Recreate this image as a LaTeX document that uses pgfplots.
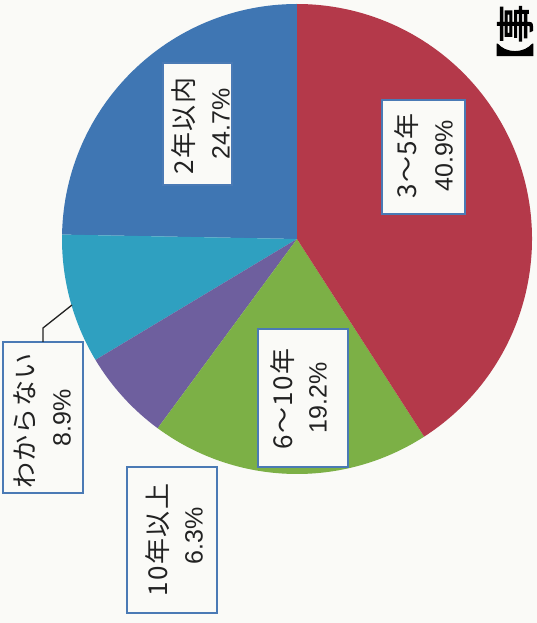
\documentclass[border=0pt]{standalone}
\usepackage{fontspec}
\usepackage{pgfplots}
\pgfplotsset{compat=1.18}
\setmainfont{Noto Sans CJK JP}
\newfontfamily\jp[LetterSpace=5]{Noto Sans CJK JP}
\newfontfamily\num{Liberation Sans}
\newfontfamily\jpb[FakeBold=3]{Noto Sans CJK JP}

\definecolor{cblue}{HTML}{3F76B3}
\definecolor{cred}{HTML}{B4394A}
\definecolor{cgreen}{HTML}{7CB046}
\definecolor{cpurple}{HTML}{6E5F9E}
\definecolor{ccyan}{HTML}{2FA0C0}
\definecolor{cbox}{HTML}{4A7AB5}
\definecolor{paper}{HTML}{FAFAF7}
\definecolor{ink}{HTML}{222222}

\begin{document}
\begin{tikzpicture}
\clip (0,0) rectangle (537bp,623bp);
\fill[paper] (0,0) rectangle (537bp,623bp);
\begin{axis}[
 at={(0,0)},anchor=origin,
 x=1bp,y=1bp,
 xmin=0,xmax=537,ymin=0,ymax=623,
 axis line style={draw=none},ticks=none,
 clip=false
]
% pie: shares in percent, counter-clockwise from 12 o'clock
\def\cx{297}\def\cy{384}\def\rr{235}
\xdef\a{90}
\foreach \v/\c in {24.7/cblue,8.9/ccyan,6.3/cpurple,19.2/cgreen,40.9/cred}{
  \pgfmathsetmacro\b{\a+3.6*\v}
  \edef\tmp{\noexpand\fill[\c] (axis cs:\cx,\cy) -- ++(\a:\rr bp)
    arc[start angle=\a,end angle=\b,radius=\rr bp] -- cycle;}
  \tmp
  \xdef\a{\b}
}

% label boxes
\tikzset{lb/.style={fill=paper,draw=cbox,line width=1.2bp}}
\draw[lb] (axis cs:163,438) rectangle (axis cs:232,560);
\draw[lb] (axis cs:382,409) rectangle (axis cs:465,523);
\draw[lb] (axis cs:258,156) rectangle (axis cs:348,294);
\draw[lb] (axis cs:3,130) rectangle (axis cs:83,281);
\draw[lb] (axis cs:127,10) rectangle (axis cs:217,156);
\draw[ink,line width=1.3bp] (axis cs:43,281) -- (axis cs:43,295) -- (axis cs:72,318);

\tikzset{t1/.style={rotate=90,inner sep=0,text=ink,font=\jp\fontsize{26bp}{30bp}\selectfont},
         t2/.style={rotate=90,inner sep=0,text=ink,font=\num\fontsize{25bp}{28bp}\selectfont}}
\node[t1] at (axis cs:184,497) {2年以内};
\node[t2] at (axis cs:221,499) {24.7\%};
\node[t1] at (axis cs:407,467) {3～5年};
\node[t2] at (axis cs:444,467) {40.9\%};
\node[t1] at (axis cs:283,224) {6～10年};
\node[t2] at (axis cs:318,225) {19.2\%};
\node[t1] at (axis cs:25,202) {わからない};
\node[t2] at (axis cs:62,205) {8.9\%};
\node[t1] at (axis cs:158,83) {10年以上};
\node[t2] at (axis cs:194,87) {6.3\%};

\node[rotate=90,anchor=west,inner sep=0,text=black,font=\jpb\fontsize{38bp}{40bp}\selectfont]
  at (axis cs:515,542) {【事};
\end{axis}
\end{tikzpicture}
\end{document}
